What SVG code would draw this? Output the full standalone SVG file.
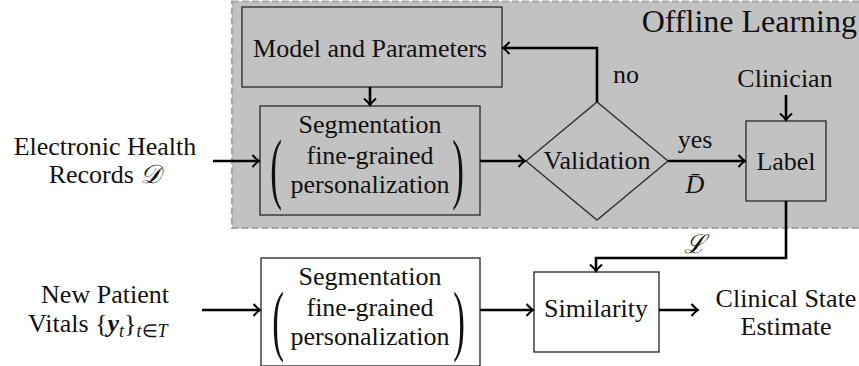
<svg xmlns="http://www.w3.org/2000/svg" width="859" height="366" viewBox="0 0 859 366">
<style>
text{font-family:"Liberation Serif","Times New Roman",serif;font-size:26px;fill:#111;}
.c{text-anchor:middle;}
.gbox{fill:#c2c2c2;stroke:#333;stroke-width:1.4;}
.wbox{fill:#fff;stroke:#333;stroke-width:1.4;}
.conn path{fill:none;stroke:#000;stroke-width:2.6;marker-end:url(#ah);}
.paren{font-size:78px;text-anchor:middle;}
.mi{font-style:italic;}
</style>
<defs>
<marker id="ah" markerUnits="userSpaceOnUse" markerWidth="14" markerHeight="16" viewBox="-10 -8 12 16" refX="0" refY="0" orient="auto">
<path d="M-6.5,-6 Q-2.5,-1.5 0,0 Q-2.5,1.5 -6.5,6" fill="none" stroke="#000" stroke-width="2"/>
</marker>
</defs>
<rect id="offline" x="232" y="1.5" width="640" height="226.5" fill="#c2c2c2" stroke="#a6a6a6" stroke-width="2.2" stroke-dasharray="7,3"/>
<text x="857" y="32" style="font-size:32px;text-anchor:end">Offline Learning</text>

<g id="model">
<rect class="gbox" x="242" y="7" width="260" height="80"/>
<text class="c" x="370" y="57">Model and Parameters</text>
</g>
<g id="seg1">
<rect class="gbox" x="260" y="106" width="220" height="109"/>
<text class="c" x="370" y="133">Segmentation</text>
<text class="c" x="370" y="164">fine-grained</text>
<text class="c" x="370" y="193">personalization</text>
<text class="paren" transform="translate(276,194) scale(0.45,1)">(</text>
<text class="paren" transform="translate(458,194) scale(0.45,1)">)</text>
</g>
<g id="validation">
<polygon points="526,161 597,102 668,161 597,220" fill="#c2c2c2" stroke="#333" stroke-width="1.4"/>
<text class="c" x="597" y="169">Validation</text>
</g>
<g id="label">
<rect class="gbox" x="746" y="121" width="80" height="80"/>
<text class="c" x="786" y="170">Label</text>
</g>
<g id="clinician">
<text class="c" x="785" y="87">Clinician</text>
</g>
<g id="ehr">
<text class="c" x="105" y="155">Electronic Health</text>
<text class="c" x="105" y="183">Records <tspan font-family="DejaVu Serif" class="mi">𝒟</tspan></text>
</g>
<g id="vitals">
<text class="c" x="105" y="303">New Patient</text>
<text x="28" y="332">Vitals {<tspan font-weight="bold" class="mi">y</tspan><tspan class="mi" font-size="18" dy="5">t</tspan><tspan dy="-5">}</tspan><tspan class="mi" font-size="18" dy="5">t</tspan><tspan font-size="18">∈</tspan><tspan class="mi" font-size="18">T</tspan></text>
</g>
<g id="seg2">
<rect class="wbox" x="261" y="258" width="219" height="108"/>
<text class="c" x="370" y="285">Segmentation</text>
<text class="c" x="370" y="316">fine-grained</text>
<text class="c" x="370" y="345">personalization</text>
<text class="paren" transform="translate(278,346) scale(0.45,1)">(</text>
<text class="paren" transform="translate(459,346) scale(0.45,1)">)</text>
</g>
<g id="similarity">
<rect class="wbox" x="534" y="272" width="125" height="80"/>
<text class="c" x="596" y="317">Similarity</text>
</g>
<g id="estimate">
<text class="c" x="786" y="307">Clinical State</text>
<text class="c" x="786" y="335">Estimate</text>
</g>

<g class="conn" id="connectors">
<path d="M213,161 H259"/>
<path d="M370,87 V105"/>
<path d="M480,161 H525"/>
<path d="M597,102 V48 H503"/>
<path d="M668,161 H745"/>
<path d="M786,95 V120"/>
<path d="M786,201 V258 H596 V271"/>
<path d="M202,310 H260"/>
<path d="M480,310 H533"/>
<path d="M659,310 H698"/>
</g>
<g id="edge-labels">
<text x="626" y="83" class="c">no</text>
<text x="695" y="148" class="c">yes</text>
<text x="695" y="193" class="c mi">D̄</text>
<text x="695" y="253" class="c mi" font-family="DejaVu Serif">ℒ</text>
</g>
</svg>
